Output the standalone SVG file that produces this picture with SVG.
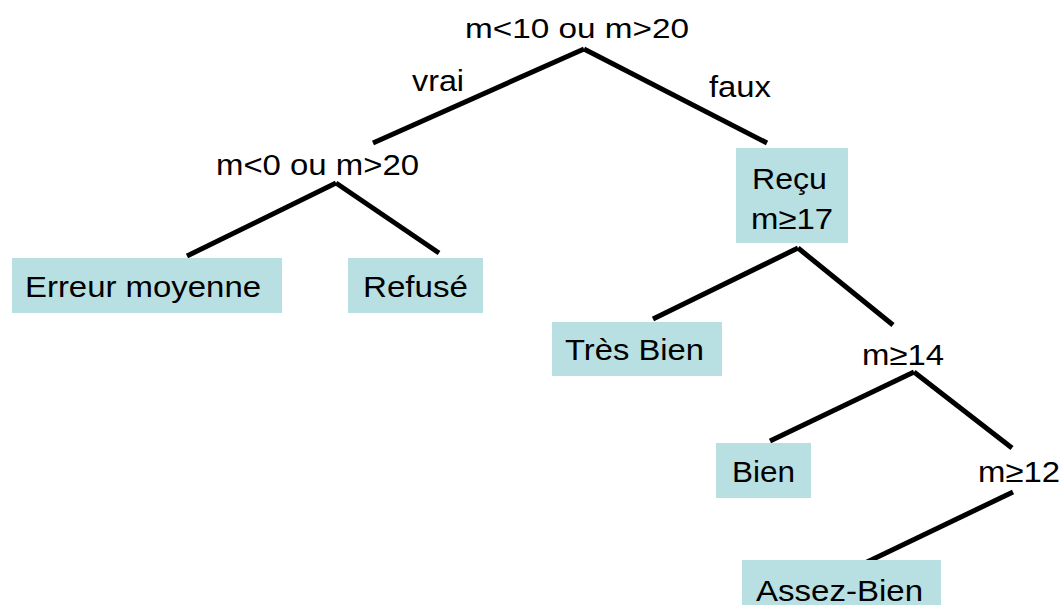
<svg xmlns="http://www.w3.org/2000/svg" width="1064" height="605" viewBox="0 0 1064 605">
<style>
.box{fill:#b8dfe2;}
.t{font-family:"Liberation Sans",Arial,sans-serif;font-size:30px;fill:#000;}
.edge{stroke:#000;stroke-width:5;fill:none;}
</style>
<rect width="1064" height="605" fill="#fff"/>
<g id="connectors">
<line class="edge" x1="584" y1="49" x2="373" y2="143"/>
<line class="edge" x1="584" y1="49" x2="767" y2="143"/>
<line class="edge" x1="336" y1="183" x2="187" y2="256"/>
<line class="edge" x1="336" y1="183" x2="439" y2="253"/>
<line class="edge" x1="798" y1="248" x2="653" y2="319"/>
<line class="edge" x1="798" y1="248" x2="893" y2="325"/>
<line class="edge" x1="914" y1="372" x2="770" y2="441"/>
<line class="edge" x1="914" y1="372" x2="1012" y2="448"/>
<line class="edge" x1="1013" y1="492" x2="865" y2="563"/>
</g>
<g id="edge-labels">
<text class="t" x="412" y="91" textLength="52" lengthAdjust="spacingAndGlyphs">vrai</text>
<text class="t" x="709" y="97" textLength="62" lengthAdjust="spacingAndGlyphs">faux</text>
</g>
<g id="n-root">
<text class="t" x="465" y="38" style="font-size:28px" textLength="224" lengthAdjust="spacingAndGlyphs">m&lt;10 ou m&gt;20</text>
</g>
<g id="n-left">
<text class="t" x="216" y="175" style="font-size:29px" textLength="203" lengthAdjust="spacingAndGlyphs">m&lt;0 ou m&gt;20</text>
</g>
<g id="n-erreur">
<rect class="box" x="12" y="258" width="270" height="55"/>
<text class="t" x="25" y="297" textLength="236" lengthAdjust="spacingAndGlyphs">Erreur moyenne</text>
</g>
<g id="n-refuse">
<rect class="box" x="348" y="258" width="135" height="55"/>
<text class="t" x="363" y="297" textLength="105" lengthAdjust="spacingAndGlyphs">Refusé</text>
</g>
<g id="n-recu">
<rect class="box" x="736" y="148" width="112" height="95"/>
<text class="t" x="752" y="189" textLength="75" lengthAdjust="spacingAndGlyphs">Reçu</text>
<text class="t" x="751" y="229" textLength="82" lengthAdjust="spacingAndGlyphs">m≥17</text>
</g>
<g id="n-tresbien">
<rect class="box" x="552" y="322" width="170" height="54"/>
<text class="t" x="565" y="360" textLength="139" lengthAdjust="spacingAndGlyphs">Très Bien</text>
</g>
<g id="n-m14">
<text class="t" x="862" y="365" textLength="82" lengthAdjust="spacingAndGlyphs">m≥14</text>
</g>
<g id="n-bien">
<rect class="box" x="716" y="443" width="95" height="55"/>
<text class="t" x="732" y="482" textLength="63" lengthAdjust="spacingAndGlyphs">Bien</text>
</g>
<g id="n-m12">
<text class="t" x="978" y="482" textLength="82" lengthAdjust="spacingAndGlyphs">m≥12</text>
</g>
<g id="n-assezbien">
<rect class="box" x="742" y="560" width="199" height="55"/>
<text class="t" x="756" y="601" textLength="167" lengthAdjust="spacingAndGlyphs">Assez-Bien</text>
</g>
</svg>
